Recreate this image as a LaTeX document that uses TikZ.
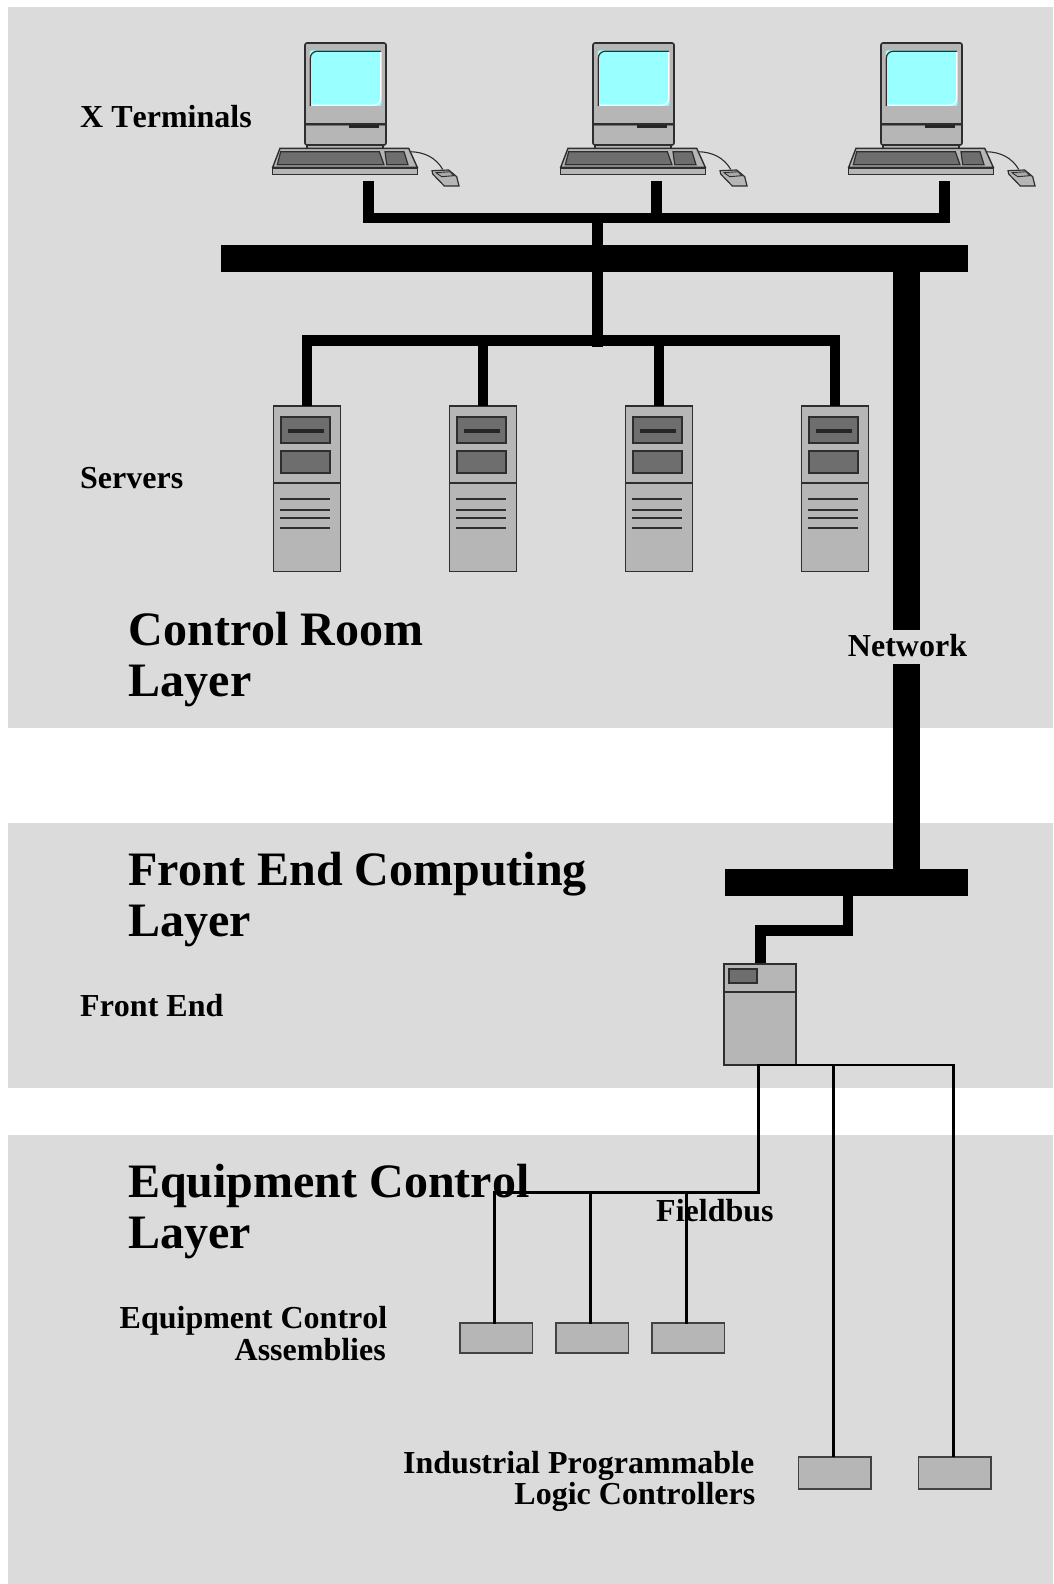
\documentclass[tikz,border=0pt]{standalone}
\usepackage{fontspec}
\setmainfont[Kerning=Off,Ligatures=NoCommon]{Liberation Serif}
\definecolor{band}{HTML}{DBDBDB}
\definecolor{dev}{HTML}{B6B6B6}
\definecolor{darkp}{HTML}{6E6E6E}
\definecolor{edge}{HTML}{2E2E2E}
\definecolor{scr}{HTML}{99FFFF}
\tikzset{
  x=1pt,y=-1pt,
  bandbox/.style={fill=band,draw=none},
  busbar/.style={rectangle,fill=black,draw=none,inner sep=0pt},
  link/.style={draw=black,line width=10.6pt,line cap=butt,line join=miter},
  wire/.style={draw=black,line width=2.8pt,line cap=butt,line join=miter},
  devbox/.style={fill=dev,draw=edge,line width=1.6pt},
  pane/.style={fill=darkp,draw=edge,line width=2pt},
  thin line/.style={draw=edge,line width=1.8pt},
  plain box/.style={rectangle,draw=edge!85!dev,fill=dev,line width=1.7pt,inner sep=0pt},
  small label/.style={font=\fontsize{32}{32}\selectfont\bfseries,inner sep=0pt,anchor=base west},
  big label/.style={font=\fontsize{48}{48}\selectfont\bfseries,inner sep=0pt,anchor=base west},
  right label/.style={font=\fontsize{32}{32}\selectfont\bfseries,inner sep=0pt,anchor=base east},
  terminal/.pic={
    \fill[dev,draw=edge,line width=1.2pt] (307,145) rectangle (383,149);
    \draw[devbox,rounded corners=2pt] (305,43) rectangle (386,145);
    \draw[thin line,line width=1.2pt] (305,124) -- (386,124);
    \draw[edge,line width=1pt,opacity=.5] (305,126) -- (386,126);
    \fill[black!85] (349,125.2) rectangle (379,127.8);
    \fill[scr,rounded corners=2pt] (309.5,50.5) rectangle (381.5,106);
    \draw[edge,line width=1.2pt,rounded corners=7pt] (310.3,106) -- (310.3,51.2) -- (381,51.2);
    \draw[white,line width=1.2pt,rounded corners=7pt] (380.8,52) -- (380.8,105.2) -- (311.5,105.2);
    \draw[devbox,line width=1.4pt] (280,148.3) -- (408.7,148.3) -- (417.3,167.3) -- (272.7,167.3) -- cycle;
    \draw[devbox,line width=1.4pt] (272.7,168) rectangle (417.3,174.3);
    \draw[pane,line width=1.2pt] (280.7,151.7) -- (379.3,151.7) -- (384,164.7) -- (277.3,164.7) -- cycle;
    \draw[pane,line width=1.2pt] (385,151.7) -- (404,151.7) -- (408,164.7) -- (386.7,164.7) -- cycle;
    \draw[edge,line width=1.1pt] (410,151.7) .. controls (425,152) and (436,158) .. (442.7,169.3);
    \draw[devbox,line width=1.2pt] (432,170.7) -- (448.7,170) -- (456.7,176.7) -- (459,186) -- (444.3,186) -- (432.7,174) -- cycle;
    \draw[pane,fill=dev!80!darkp,line width=.9pt] (436,172.7) -- (450,171.7) -- (454,175.7) -- (441.7,176.7) -- cycle;
    \coordinate (-port) at (368.3,180.7);
  },
  serverbox/.pic={
    \draw[devbox] (273.6,406) rectangle (340.4,571.4);
    \draw[thin line] (272.8,483) -- (340.4,483);
    \draw[pane] (281,416.7) rectangle (330,443.3);
    \fill[black!85] (288.3,429) rectangle (324,432.6);
    \draw[pane] (281,451) rectangle (330,473.3);
    \draw[thin line] (280,499) -- (330,499) (280,509.7) -- (330,509.7) (280,517.7) -- (330,517.7) (280,528.3) -- (330,528.3);
    \coordinate (-port) at (307,405.7);
  }
}
\begin{document}
\begin{tikzpicture}
\useasboundingbox[fill=white] (0,0) rectangle (1053,1584);
\path[bandbox] (8,7) rectangle (1053,727.8);
\path[bandbox] (8,823) rectangle (1053,1088);
\path[bandbox] (8,1135) rectangle (1053,1584);

% devices
\pic (t1) at (0,0) {terminal};
\pic (t2) at (288,0) {terminal};
\pic (t3) at (576,0) {terminal};
\pic (s1) at (0,0) {serverbox};
\pic (s2) at (176,0) {serverbox};
\pic (s3) at (352,0) {serverbox};
\pic (s4) at (528,0) {serverbox};

% front end
\node[rectangle,draw=edge,fill=dev,line width=1.6pt,minimum width=72pt,minimum height=101pt,inner sep=0pt] (fe) at (760.1,1014.5) {};
\draw[thin line] (723,992) -- (796.1,992);
\draw[pane] (729,968.7) rectangle (756.7,982.7);

% buses
\node[busbar,minimum width=747.3pt,minimum height=27pt] (bus1) at (594.7,258.2) {};
\node[busbar,minimum width=243.3pt,minimum height=26.7pt] (bus2) at (846.7,882.3) {};

% junctions
\coordinate (j1) at (597.7,218);
\coordinate (j2) at (597.7,340.5);
\coordinate (cA) at (848,930.3);
\coordinate (tx) at (906.7,0);
\coordinate (ux) at (760.3,930.3);
\coordinate (p1x) at (833.4,1065);
\coordinate (p2x) at (953.6,1065);

% X terminal connectors
\draw[link] (t1-port) -- (t1-port |- j1) -- (t3-port |- j1) -- (t3-port);
\draw[link] (t2-port) -- ([yshift=-5.3pt]t2-port |- j1);
\draw[link] ([yshift=5.3pt]j1) -- ([yshift=-6.2pt]j2);
% server connectors
\draw[link] (s1-port) -- (s1-port |- j2) -- (s4-port |- j2) -- (s4-port);
\draw[link] (s2-port) -- ([yshift=5.3pt]s2-port |- j2);
\draw[link] (s3-port) -- ([yshift=5.3pt]s3-port |- j2);

% network trunk
\draw[draw=black,line width=27pt] (tx |- bus1.north) -- (tx |- bus2.north);
\node[fill=band,inner sep=0pt,minimum width=130pt,minimum height=34pt] (netl) at (907.5,646.8) {};
\node[font=\fontsize{32}{32}\selectfont\bfseries,inner sep=0pt] at (907.5,645.6) {Network};

% front end link
\draw[link] (cA |- bus2.south) -- (cA) -- (ux) -- (ux |- fe.north);

% fieldbus
\coordinate (fb) at (758.8,1065);
\coordinate (fb2) at (758.8,1192.7);
\coordinate (m1) at (494.3,1192.7);
\coordinate (m2) at (590.7,1192.7);
\coordinate (m3) at (686.7,1192.7);
\node[plain box,minimum width=72.3pt,minimum height=30pt] (e1) at (496.2,1338) {};
\node[plain box,minimum width=72.3pt,minimum height=30pt] (e2) at (592.2,1338) {};
\node[plain box,minimum width=72.3pt,minimum height=30pt] (e3) at (688.2,1338) {};
\node[plain box,minimum width=72.7pt,minimum height=32.6pt] (p1) at (834.7,1473) {};
\node[plain box,minimum width=72.7pt,minimum height=32.6pt] (p2) at (954.7,1473) {};
\draw[wire,shorten >=-1.5pt,shorten <=-1.5pt] (m1 |- e1.north) -- (m1) -- (fb2) -- (fb) -- (p2x) -- (p2x |- p2.north);
\draw[wire,shorten >=-1.5pt] (p1x) -- (p1x |- p1.north);
\draw[wire,shorten >=-1.5pt] (m2) -- (m2 |- e2.north);
\draw[wire,shorten >=-1.5pt] (m3) -- (m3 |- e3.north);

% labels
\node[small label] (l1) at (80,127.5) {X Terminals};
\node[small label] (l2) at (80,488) {Servers};
\node[big label] (l3) at (128.5,645) {Control Room};
\node[big label] (l4) at (128.5,696) {Layer};
\node[big label] (l5) at (128,885) {Front End Computing};
\node[big label] (l6) at (128,936) {Layer};
\node[small label] (l7) at (80,1016) {Front End};
\node[big label] (l8) at (128,1197) {Equipment Control};
\node[big label] (l9) at (128,1248) {Layer};
\node[small label] (l10) at (656,1221) {Fieldbus};
\node[right label] (l11) at (387.5,1328.5) {Equipment Control};
\node[right label] (l12) at (386,1360.5) {Assemblies};
\node[right label] (l13) at (754.5,1473) {Industrial Programmable};
\node[right label] (l14) at (755.5,1504.5) {Logic Controllers};
\end{tikzpicture}
\end{document}
